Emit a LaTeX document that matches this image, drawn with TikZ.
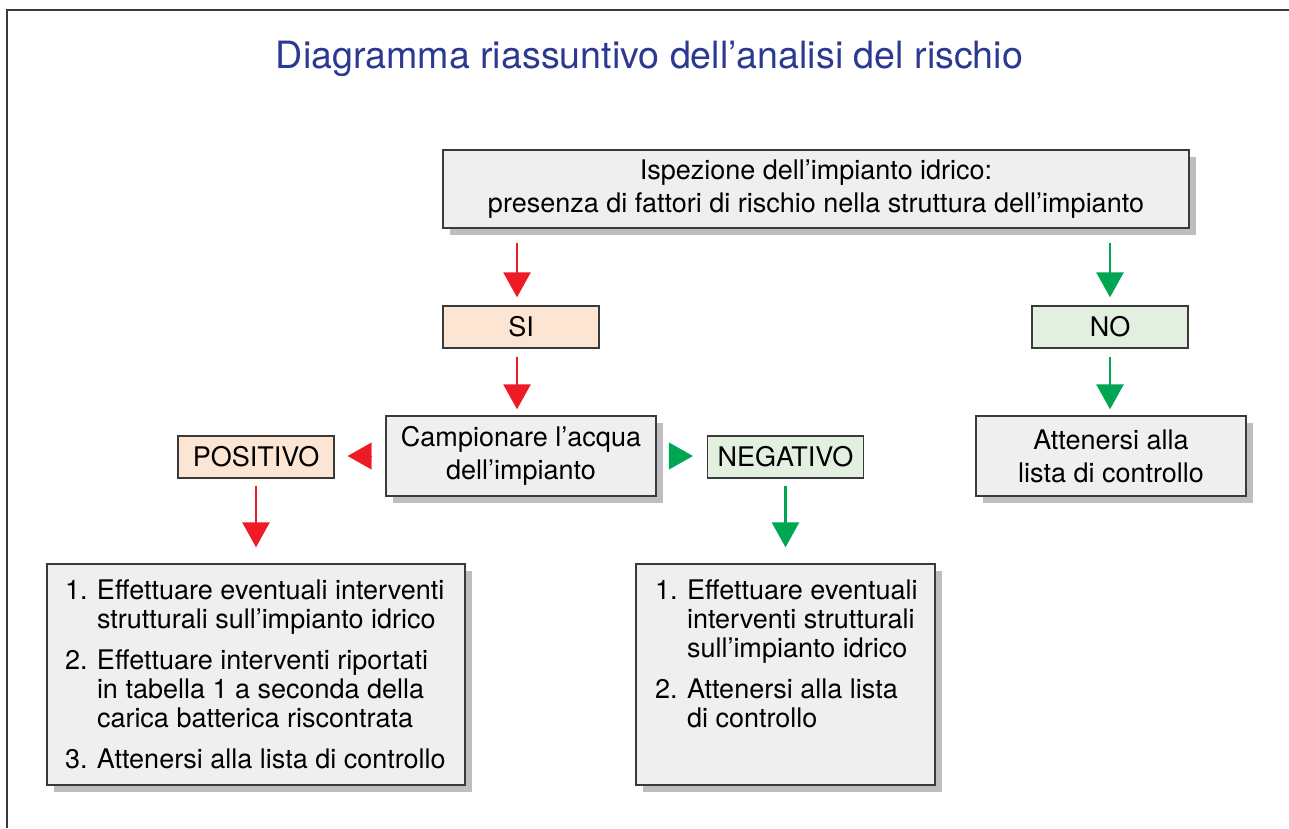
\documentclass[tikz,border=0pt]{standalone}
\usepackage{fontspec}
\setmainfont{TeX Gyre Heros}
\usetikzlibrary{positioning, arrows.meta, shadows}

\definecolor{titleblue}{HTML}{2B3990}
\definecolor{boxgray}{HTML}{EFEFEF}
\definecolor{boxline}{HTML}{3A3A3A}
\definecolor{shadowgray}{HTML}{BCBEC0}
\definecolor{sifill}{HTML}{FDE5D3}
\definecolor{nofill}{HTML}{E3EFDF}
\definecolor{arrred}{HTML}{ED1C24}
\definecolor{arrgreen}{HTML}{00A651}

\tikzset{
  box/.style={draw=boxline, line width=1.3pt, fill=boxgray, align=center, inner sep=0pt,
    drop shadow={shadow xshift=7pt, shadow yshift=-7pt, fill=shadowgray, opacity=1}},
  yesbox/.style={draw=boxline, line width=1.3pt, fill=sifill, minimum width=156pt, minimum height=42pt, inner sep=0pt},
  nobox/.style={yesbox, fill=nofill},
  redarr/.style={draw=arrred, fill=arrred, line width=2.6pt, -{Triangle[length=25pt, width=27pt]}},
  greenarr/.style={redarr, draw=arrgreen, fill=arrgreen},
  redtri/.style={draw=arrred, fill=arrred, line width=0.4pt, -{Triangle[length=24pt, width=27pt]}},
  greentri/.style={redtri, draw=arrgreen, fill=arrgreen}
}

\newcommand{\bodyfont}{\fontsize{27}{33}\selectfont}
\newcommand{\listfont}{\fontsize{27}{29}\selectfont}

\begin{document}
\begin{tikzpicture}[x=1pt, y=-1pt, font=\bodyfont]
            \useasboundingbox (0,0) rectangle (1289,828);
            \draw[boxline, line width=2pt] (7,828) -- (7,10) -- (1289,10);

            \node[text=titleblue, font=\fontsize{37.6}{44}\selectfont, anchor=base] (title) at (649.5,68) {Diagramma riassuntivo dell’analisi del rischio};

            \node[box, minimum width=746pt, minimum height=78pt] (ispez) at (816,189) {Ispezione dell’impianto idrico:\\presenza di fattori di rischio nella struttura dell’impianto};
            \node[yesbox] (si) at (521,327) {SI};
            \node[nobox] (no) at (1110,327) {NO};
            \node[box, minimum width=270pt, minimum height=80pt] (camp) at (521,456) {Campionare l’acqua\\dell’impianto};
            \node[box, minimum width=270pt, minimum height=80pt] (att) at (1111,456) {Attenersi alla\\lista di controllo};
            \node[yesbox] (pos) at (256,457) {POSITIVO};
            \node[nobox] (neg) at (785.5,457) {NEGATIVO};

            \node[box, minimum width=418pt, minimum height=221pt] (listpos) at (256,674.5) {%
              \begin{minipage}[c][191pt][t]{382pt}\listfont
              \begin{tabular}{@{}p{32pt}@{}l@{}}
                1. & Effettuare eventuali interventi\\
                   & strutturali sull’impianto idrico\\[12pt]
                2. & Effettuare interventi riportati\\
                   & in tabella 1 a seconda della\\
                   & carica batterica riscontrata\\[12pt]
                3. & Attenersi alla lista di controllo
              \end{tabular}
              \end{minipage}};
            \node[box, minimum width=299pt, minimum height=221pt] (listneg) at (785.5,674.5) {%
              \begin{minipage}[c][191pt][t]{261pt}\listfont
              \begin{tabular}{@{}p{32pt}@{}l@{}}
                1. & Effettuare eventuali\\
                   & interventi strutturali\\
                   & sull’impianto idrico\\[12pt]
                2. & Attenersi alla lista\\
                   & di controllo
              \end{tabular}
              \end{minipage}};

            % ramo SI
            \draw[redarr, shorten <=14pt, shorten >=8pt] ([xshift=-4pt]si.north |- ispez.south) -- ([xshift=-4pt]si.north);
            \draw[redarr, shorten <=8pt, shorten >=6pt] ([xshift=-4pt]si.south) -- ([xshift=-4pt]si.south |- camp.north);
            \draw[redtri, shorten <=15pt, shorten >=13pt] (camp.west) -- (camp.west -| pos.east);
            \draw[greentri, shorten <=14pt, shorten >=14pt] (camp.east) -- (camp.east -| neg.west);
            \draw[redarr, shorten <=7pt, shorten >=16pt] (pos) -- (listpos);
            \draw[greenarr, shorten <=7pt, shorten >=16pt] (neg) -- (listneg);

            % ramo NO
            \draw[greenarr, shorten <=14pt, shorten >=8pt] (no.north |- ispez.south) -- (no.north);
            \draw[greenarr, shorten <=8pt, shorten >=6pt] (no) -- (att.north -| no.south);
\end{tikzpicture}
\end{document}
